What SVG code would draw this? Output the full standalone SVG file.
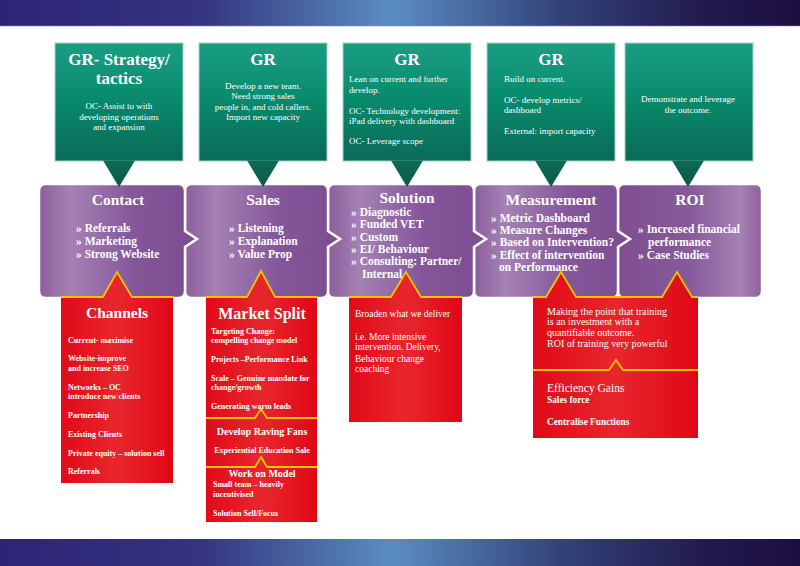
<svg xmlns="http://www.w3.org/2000/svg" width="800" height="566" viewBox="0 0 800 566">
<defs>
<linearGradient id="band" x1="0" y1="0" x2="1" y2="0">
<stop offset="0" stop-color="#2d2476"/><stop offset="0.25" stop-color="#35347f"/><stop offset="0.49" stop-color="#5a8dc2"/><stop offset="0.7" stop-color="#33437a"/><stop offset="0.88" stop-color="#221a4e"/><stop offset="1" stop-color="#1e0e40"/>
</linearGradient>
<linearGradient id="green" x1="0" y1="0" x2="0" y2="1">
<stop offset="0" stop-color="#1a9e82"/><stop offset="0.5" stop-color="#08896c"/><stop offset="1" stop-color="#0b6a57"/>
</linearGradient>
<linearGradient id="gptr" x1="0" y1="0" x2="0" y2="1">
<stop offset="0" stop-color="#0b6a57"/><stop offset="1" stop-color="#0a5848"/>
</linearGradient>
<linearGradient id="pg" x1="0" y1="0" x2="1" y2="0">
<stop offset="0" stop-color="#8b5e9c"/><stop offset="0.2" stop-color="#a581b4"/><stop offset="0.6" stop-color="#85569a"/><stop offset="1" stop-color="#7c4c8f"/>
</linearGradient>
<linearGradient id="pgR" x1="0" y1="0" x2="1" y2="0">
<stop offset="0" stop-color="#7e4e90"/><stop offset="0.5" stop-color="#875a9b"/><stop offset="0.85" stop-color="#a581b4"/><stop offset="1" stop-color="#8d5f9e"/>
</linearGradient>
<linearGradient id="red" x1="0" y1="0" x2="1" y2="0">
<stop offset="0" stop-color="#e00a19"/><stop offset="0.5" stop-color="#e8262d"/><stop offset="1" stop-color="#df0716"/>
</linearGradient>
<style>
text{font-family:"Liberation Serif","DejaVu Serif",serif;fill:#fff}
.gt{font-size:17px;font-weight:bold;text-anchor:middle}
.gb{font-size:9px}
.gc{text-anchor:middle}
.pt{font-size:15.5px;font-weight:bold;text-anchor:middle}
.pb{font-size:11.5px;font-weight:bold}
.rt{font-size:15.5px;font-weight:bold;text-anchor:middle}
.rs{font-size:8px;font-weight:bold}
.rm{font-size:9.5px}
.gbox{fill:url(#green);stroke:#9fd6c5;stroke-width:1}
.gptr{fill:url(#gptr)}
.pbox{stroke:#fff;stroke-width:2.5}
.rbox{fill:url(#red)}
.yl{fill:none;stroke:#f4c400;stroke-width:1.8}
</style>
</defs>
<rect width="800" height="566" fill="#fff"/>
<rect x="0" y="0" width="800" height="26" fill="url(#band)"/>
<rect x="0" y="25.5" width="800" height="1" fill="#8a86b8" opacity="0.6"/>
<rect x="0" y="539" width="800" height="27" fill="url(#band)"/>

<!-- purple stage boxes (drawn right to left) -->
<g id="roi">
<path class="pbox" fill="url(#pgR)" d="M625,184 H755 Q762,184 762,191 V291 Q762,298 755,298 H625 Q618,298 618,291 V191 Q618,184 625,184 Z"/>
<text class="pt" x="690" y="205">ROI</text>
<text class="pb" x="638" y="233">» Increased financial</text>
<text class="pb" x="648" y="246">performance</text>
<text class="pb" x="638" y="259">» Case Studies</text>
</g>
<g id="measurement">
<path class="pbox" fill="url(#pg)" d="M481,184 H611 Q618,184 618,191 V231 L630,239 L618,247 V291 Q618,298 611,298 H481 Q474,298 474,291 V191 Q474,184 481,184 Z"/>
<text class="pt" x="551" y="205">Measurement</text>
<text class="pb" x="491" y="222">» Metric Dashboard</text>
<text class="pb" x="491" y="234">» Measure Changes</text>
<text class="pb" x="491" y="246">» Based on Intervention?</text>
<text class="pb" x="491" y="259">» Effect of  intervention</text>
<text class="pb" x="499" y="271">on Performance</text>
</g>
<g id="solution">
<path class="pbox" fill="url(#pg)" d="M335,184 H467 Q474,184 474,191 V231 L486,239 L474,247 V291 Q474,298 467,298 H335 Q328,298 328,291 V191 Q328,184 335,184 Z"/>
<text class="pt" x="407" y="203">Solution</text>
<text class="pb" x="351" y="216">» Diagnostic</text>
<text class="pb" x="351" y="228">» Funded VET</text>
<text class="pb" x="351" y="241">» Custom</text>
<text class="pb" x="351" y="253">» EI/ Behaviour</text>
<text class="pb" x="351" y="265">» Consulting: Partner/</text>
<text class="pb" x="362" y="278">Internal</text>
</g>
<g id="sales">
<path class="pbox" fill="url(#pg)" d="M192,184 H321 Q328,184 328,191 V231 L340,239 L328,247 V291 Q328,298 321,298 H192 Q185,298 185,291 V191 Q185,184 192,184 Z"/>
<text class="pt" x="263" y="205">Sales</text>
<text class="pb" x="229" y="232">» Listening</text>
<text class="pb" x="229" y="245">» Explanation</text>
<text class="pb" x="229" y="258">» Value Prop</text>
</g>
<g id="contact">
<path class="pbox" fill="url(#pg)" d="M46,184 H178 Q185,184 185,191 V231 L197,239 L185,247 V291 Q185,298 178,298 H46 Q39,298 39,291 V191 Q39,184 46,184 Z"/>
<text class="pt" x="118" y="205">Contact</text>
<text class="pb" x="76" y="232">» Referrals</text>
<text class="pb" x="76" y="245">» Marketing</text>
<text class="pb" x="76" y="258">» Strong Website</text>
</g>

<!-- green goal boxes -->
<g id="gr-strategy">
<rect class="gbox" x="55" y="43" width="128" height="118"/>
<path class="gptr" d="M103,160.5 H135 L119,187 Z"/>
<text class="gt" x="119" y="65">GR- Strategy/</text>
<text class="gt" x="119" y="84">tactics</text>
<text class="gb gc" x="119" y="109">OC- Assist to with</text>
<text class="gb gc" x="119" y="120">developing operations</text>
<text class="gb gc" x="119" y="130">and expansion</text>
</g>
<g id="gr-sales">
<rect class="gbox" x="199" y="43" width="128" height="118"/>
<path class="gptr" d="M247,160.5 H279 L263,187 Z"/>
<text class="gt" x="263" y="65">GR</text>
<text class="gb gc" x="263" y="89">Develop a new team.</text>
<text class="gb gc" x="263" y="99">Need strong sales</text>
<text class="gb gc" x="263" y="110">people in, and cold callers.</text>
<text class="gb gc" x="263" y="120">Import new capacity</text>
</g>
<g id="gr-solution">
<rect class="gbox" x="343" y="43" width="128" height="118"/>
<path class="gptr" d="M391,160.5 H423 L407,187 Z"/>
<text class="gt" x="407" y="65">GR</text>
<text class="gb" x="349" y="82">Lean on current and further</text>
<text class="gb" x="349" y="93">develop.</text>
<text class="gb" x="349" y="114">OC- Technology development:</text>
<text class="gb" x="349" y="124">iPad delivery with dashboard</text>
<text class="gb" x="349" y="144">OC- Leverage scope</text>
</g>
<g id="gr-measurement">
<rect class="gbox" x="487" y="43" width="128" height="118"/>
<path class="gptr" d="M535,160.5 H567 L551,187 Z"/>
<text class="gt" x="551" y="65">GR</text>
<text class="gb" x="504" y="82">Build on current.</text>
<text class="gb" x="504" y="103">OC- develop metrics/</text>
<text class="gb" x="504" y="113">dashboard</text>
<text class="gb" x="504" y="134">External: import capacity</text>
</g>
<g id="gr-roi">
<rect class="gbox" x="625" y="43" width="128" height="118"/>
<path class="gptr" d="M672,160.5 H704 L688,187 Z"/>
<text class="gb gc" x="688" y="102">Demonstrate and leverage</text>
<text class="gb gc" x="688" y="113">the outcome.</text>
</g>

<!-- red detail boxes -->
<g id="channels">
<path class="rbox" d="M61,297 H103 L117,272 L132,297 H173 V483 H61 Z"/>
<polyline class="yl" points="61,297 103,297 117,272 132,297 173,297"/>
<text class="rt" x="117" y="318">Channels</text>
<text class="rs" x="68" y="343">Current- maximise</text>
<text class="rs" x="68" y="361">Website-improve</text>
<text class="rs" x="68" y="371">and increase SEO</text>
<text class="rs" x="68" y="390">Networks – OC</text>
<text class="rs" x="68" y="399">introduce new clients</text>
<text class="rs" x="68" y="418">Partnership</text>
<text class="rs" x="68" y="437">Existing Clients</text>
<text class="rs" x="68" y="456">Private equity – solution sell</text>
<text class="rs" x="68" y="474">Referrals</text>
</g>
<g id="market-split">
<path class="rbox" d="M206,297 H247 L261,271 L275,297 H317 V522 H206 Z"/>
<polyline class="yl" points="206,297 247,297 261,271 275,297 317,297"/>
<polyline class="yl" points="206,418 255,418 261,409 267,418 317,418"/>
<polyline class="yl" points="206,467 255,467 261,457 267,467 317,467"/>
<text class="rt" x="262" y="319" style="font-size:16px">Market Split</text>
<text class="rs" x="211" y="334">Targeting Change:</text>
<text class="rs" x="211" y="343">compelling change model</text>
<text class="rs" x="211" y="362">Projects –Performance Link</text>
<text class="rs" x="211" y="381">Scale – Genuine mandate for</text>
<text class="rs" x="211" y="390">change/growth</text>
<text class="rs" x="211" y="409">Generating warm leads</text>
<text x="262" y="435" style="font-size:10px;font-weight:bold;text-anchor:middle">Develop Raving Fans</text>
<text class="rs" x="262" y="453" style="text-anchor:middle">Experiential Education Sale</text>
<text x="262" y="477" style="font-size:10px;font-weight:bold;text-anchor:middle">Work on Model</text>
<text class="rs" x="213" y="487">Small team – heavily</text>
<text class="rs" x="213" y="497">incentivised</text>
<text class="rs" x="213" y="516">Solution Sell/Focus</text>
</g>
<g id="broaden">
<path class="rbox" d="M349,297 H391 L406,272 L421,297 H462 V422 H349 Z"/>
<polyline class="yl" points="349,297 391,297 406,272 421,297 462,297"/>
<text class="rm" x="355" y="317">Broaden what we deliver</text>
<text class="rm" x="355" y="340">i.e. More intensive</text>
<text class="rm" x="355" y="350">intervention. Delivery,</text>
<text class="rm" x="355" y="362">Behaviour change</text>
<text class="rm" x="355" y="372">coaching</text>
</g>
<g id="efficiency">
<path class="rbox" d="M533,297 H546 L561,272 L576,297 H662 L677,272 L692,297 H698 V438 H533 Z"/>
<polyline class="yl" points="533,297 546,297 561,272 576,297 662,297 677,272 692,297 698,297"/>
<polyline class="yl" points="533,370 609,370 616,360 623,370 698,370"/>
<text x="547" y="315" style="font-size:10px">Making the point that training</text>
<text x="547" y="325" style="font-size:10px">is an investment with a</text>
<text x="547" y="336" style="font-size:10px">quantifiable outcome.</text>
<text x="547" y="347" style="font-size:10px">ROI of  training very powerful</text>
<text x="547" y="392" style="font-size:11.5px">Efficiency Gains</text>
<text x="547" y="403" style="font-size:9.3px;font-weight:bold">Sales force</text>
<text x="547" y="425" style="font-size:9.3px;font-weight:bold">Centralise Functions</text>
</g>
</svg>
